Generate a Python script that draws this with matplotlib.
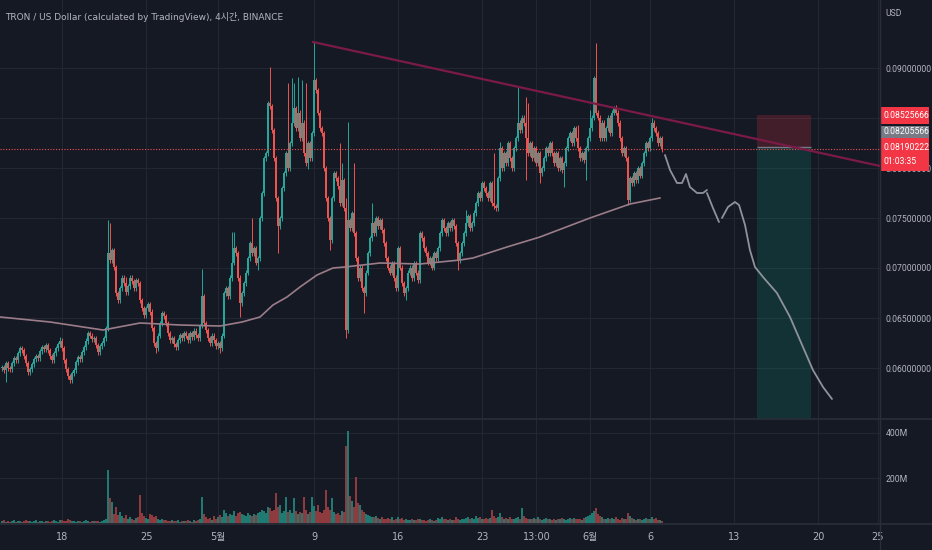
import numpy as np
import matplotlib
matplotlib.use('Agg')
import matplotlib.pyplot as plt
from matplotlib.patches import Rectangle

plt.rcParams['font.family'] = ['DejaVu Sans', 'Noto Sans CJK KR']
NARROW = ['Liberation Sans Narrow', 'Roboto', 'DejaVu Sans']

# 4h candles from 2022-04-13 00:00, closes in 1e-5 USD
closes = [
    6010, 5980, 6050, 6000, 5990, 6050, 6100, 6080, 6150, 6200, 6180,
    6120, 6050, 5960, 5990, 6040, 6090, 6120, 6100, 6170, 6210, 6190,
    6230, 6180, 6120, 6080, 6150, 6200, 6240, 6270, 6200, 6080, 5990, 5920, 5880, 5950,
    5980, 6060, 6110, 6090, 6160, 6210, 6270, 6350, 6320, 6290, 6300, 6230, 6160, 6220, 6250, 6300,
    6400, 7150, 7080, 7180, 7010, 6750, 6680,
    6800, 6900, 6850, 6760, 6820, 6900, 6870, 6800, 6880, 6850,
    6680, 6600, 6530, 6600, 6640, 6560, 6400, 6250, 6200, 6320, 6450, 6550, 6520, 6450, 6350, 6280,
    6300, 6240, 6210, 6280, 6330, 6300, 6350,
    6320, 6280, 6350, 6310, 6370, 6330, 6300, 6420, 6720, 6450,
    6380, 6300, 6250, 6320, 6280, 6220, 6250, 6200, 6320, 6750,
    6800, 6720, 6900, 7050, 7200, 7150, 6900, 6650, 6750, 6850, 6950, 7100, 7250,
    7150, 7200, 7050, 7100, 7500, 7750, 8100, 8150, 8650, 8620, 8380,
    8100, 7700, 7420, 7500, 7800, 7950, 8150, 8000, 8250, 8450, 8600, 8400, 8550,
    8300, 8450, 8150, 8050, 8250, 8100, 8350, 8880, 8780, 8550, 8400, 8350,
    8000, 7700, 7500, 7280, 7700, 7950, 7900, 7820, 7650, 7880, 7600, 6380, 7480,
    7400, 7550, 7350, 7100, 6900, 7000, 6800, 6750,
    6950, 7150, 7300, 7450, 7350, 7500, 7420, 7480, 7380, 7250, 7100, 7000, 6950, 7050,
    6900, 6800, 7200, 7000, 6850, 6750, 6800, 6950, 7000, 6900, 7050, 6950, 6880, 7350,
    7300, 7200, 7150, 7050, 7100, 7000, 7150, 7100,
    7200, 7350, 7480, 7400, 7350, 7450, 7400, 7480, 7420, 7250, 7080,
    7150, 7250, 7350, 7450, 7520, 7400, 7450, 7550, 7650, 7750, 7700, 7850, 7800,
    7750, 7700, 7850, 7650, 7620, 7600, 7900, 8200,
    8000, 8150, 8050, 8250, 8100, 8000, 8200, 8300, 8450, 8380, 8500, 8450,
    8300, 8150, 8250, 8100, 8200, 8050, 8150, 7950, 8000,
    8100, 8200, 8150, 8250, 8150, 8050, 8150, 8000, 8100, 7980, 8050, 8200,
    8300, 8350, 8250, 8400, 8300, 8200, 8100, 8150, 8080, 8200, 8300, 8400, 8500,
    8900, 8550, 8500, 8300, 8450, 8300, 8400, 8500, 8350, 8550, 8600, 8550, 8450,
    8300, 8150, 8200, 8100, 7680, 7900, 7850, 7950, 7880, 8000, 7920,
    8050, 8150, 8250, 8200, 8300, 8450, 8400, 8350, 8250, 8300, 8190,
]
first_open = 6000

# long wicks (candle index -> price in 1e-5 USD)
wick_high = {29: 6310, 53: 7480, 54: 7450, 62: 6910, 100: 6990, 115: 7360,
             116: 7360, 125: 7500, 134: 9010, 143: 8850, 145: 8900, 146: 8850,
             148: 8910, 150: 8880, 152: 8850, 156: 9260, 169: 8250, 170: 8050,
             172: 7700, 173: 8460, 176: 8050, 185: 7650, 232: 7580, 236: 7580,
             246: 8150, 249: 8260, 258: 8810, 262: 8710, 263: 8650, 288: 8430,
             294: 8580, 297: 9250, 307: 8630, 325: 8500}
wick_low = {2: 5860, 34: 5850, 77: 6150, 109: 6150, 119: 6510, 128: 6980,
            138: 7150, 153: 7990, 164: 7180, 172: 6300, 181: 6550, 202: 6680,
            228: 6980, 262: 7880, 269: 7850, 281: 7810, 292: 7880, 313: 7630}

# volume per candle, millions
volumes = [
    8, 12, 6, 10, 7, 9, 14, 6, 8, 11, 7, 9,
    15, 10, 8, 6, 9, 12, 7, 10, 8, 6, 11, 9,
    7, 10, 13, 8, 6, 12, 14, 9, 11, 16, 12, 8,
    10, 7, 9, 11, 6, 8, 12, 9, 7, 10, 8, 11,
    9, 6, 10, 12, 18, 235, 110, 95, 40, 70, 35, 50,
    30, 22, 35, 18, 25, 20, 15, 22, 28, 124, 45, 30,
    22, 18, 40, 35, 28, 30, 20, 15, 18, 12, 14, 10,
    9, 12, 8, 10, 14, 7, 11, 9, 8, 13, 10, 7,
    12, 9, 15, 20, 115, 40, 25, 18, 22, 15, 30, 20,
    28, 35, 25, 60, 45, 30, 40, 35, 55, 30, 45, 50,
    40, 35, 30, 45, 38, 30, 40, 35, 45, 50, 60, 55,
    45, 70, 65, 55, 60, 133, 70, 80, 45, 55, 115, 50,
    60, 45, 110, 55, 40, 50, 45, 115, 60, 40, 50, 115,
    75, 55, 80, 50, 45, 60, 146, 70, 60, 110, 50, 40,
    45, 35, 55, 50, 342, 410, 120, 100, 70, 204, 90, 80,
    60, 50, 40, 35, 30, 28, 25, 30, 22, 20, 25, 18,
    20, 22, 18, 25, 15, 20, 28, 18, 22, 15, 20, 12,
    15, 18, 12, 14, 20, 16, 12, 15, 10, 14, 18, 12,
    10, 15, 22, 18, 25, 16, 20, 14, 18, 12, 15, 25,
    18, 14, 20, 16, 22, 28, 20, 24, 18, 30, 22, 26,
    20, 18, 22, 16, 24, 58, 30, 22, 26, 45, 25, 18,
    22, 16, 25, 20, 18, 22, 28, 20, 65, 30, 24, 18,
    20, 16, 22, 18, 25, 20, 14, 18, 22, 16, 20, 15,
    18, 14, 20, 16, 22, 18, 15, 20, 24, 18, 22, 16,
    20, 18, 15, 22, 25, 30, 35, 45, 55, 68, 40, 30,
    25, 20, 18, 22, 16, 24, 20, 28, 18, 15, 22, 18,
    20, 44, 30, 22, 18, 15, 20, 16, 14, 18, 22, 16,
    20, 25, 18, 22, 15, 12, 8,
]

# moving average (days since May 1, price)
ma_days = [-18.17, -14.0, -9.58, -6.5, -3.17, 0.17, 2.0, 3.5, 4.58, 5.75, 6.83,
           8.25, 9.58, 10.58, 13.5, 16.83, 20.17, 21.25, 24.08, 26.83, 31.0,
           34.33, 36.83]
ma_vals = [0.0651, 0.0646, 0.0638, 0.0645, 0.0643, 0.0642, 0.0646, 0.0651,
           0.0663, 0.0671, 0.0681, 0.0693, 0.0700, 0.0701, 0.0705, 0.0704,
           0.0708, 0.0710, 0.0721, 0.0731, 0.0750, 0.0764, 0.0770]

# descending trendline
trend_days = [7.92, 55.17]
trend_vals = [0.0926, 0.0802]

# hand-drawn projection path
proj_days = [37.25, 37.67, 38.25, 38.67, 39.0, 39.33, 39.92, 40.42, 40.75, np.nan,
             40.75, 41.25, 41.75, np.nan,
             42.0, 42.5, 43.08, 43.42, 43.92, 44.33, 44.75, 45.42, 46.58, 47.67,
             48.75, 49.58, 50.42, 51.17]
proj_vals = [0.0813, 0.0798, 0.0785, 0.0785, 0.0794, 0.0781, 0.0775, 0.0775, 0.0778, np.nan,
             0.0775, 0.0760, 0.0746, np.nan,
             0.0750, 0.0761, 0.0766, 0.0763, 0.0743, 0.0718, 0.0701, 0.0691, 0.0675,
             0.0651, 0.0621, 0.0598, 0.0581, 0.0569]

# short position tool
pos_start, pos_end = 44.92, 49.42
entry_price = 0.08205566
stop_price = 0.08525666
target_price = 0.0500
last_price = 0.08190222

tick_days = [-13, -6, 0, 8, 15, 22, 26.54, 31, 36, 43, 50, 55]
tick_labels = ['18', '25', '5월', '9', '16', '23', '13:00', '6월', '6', '13', '20', '25']
price_ticks = [0.060, 0.065, 0.070, 0.075, 0.080, 0.085, 0.090]

BG = '#151924'
GRID = '#232733'
TXT = '#b2b5be'
UP = '#26a69a'
DOWN = '#ef5350'
W, H = 932, 550
LABEL_SIZE = 6.2

# candle arrays
n = len(closes)
days = -18 + np.arange(n) / 6
c = np.array(closes, dtype=float)
o = np.concatenate([[first_open], c[:-1]])
hi = np.maximum(o, c) + 25
lo = np.minimum(o, c) - 25
for k, v in wick_high.items():
    hi[k] = max(hi[k], v)
for k, v in wick_low.items():
    lo[k] = min(lo[k], v)
c, o, hi, lo = c / 1e5, o / 1e5, hi / 1e5, lo / 1e5
up = c >= o
cols = np.where(up, UP, DOWN)

fig = plt.figure(figsize=(W / 100, H / 100), dpi=100, facecolor=BG)
ax = fig.add_axes([0, (H - 419) / H, 880 / W, 419 / H], facecolor=BG)
axv = fig.add_axes([0, (H - 524) / H, 880 / W, 105 / H], facecolor=BG, sharex=ax)

xmin, xmax = -18.17, 55.17

# price pane
for t in tick_days:
    ax.axvline(t, color=GRID, lw=0.8, zorder=0)
    axv.axvline(t, color=GRID, lw=0.8, zorder=0)
for p in price_ticks:
    ax.axhline(p, color=GRID, lw=0.8, zorder=0)

ax.vlines(days, lo, hi, colors=cols, lw=0.7, zorder=2)
body = np.where(np.abs(c - o) < 0.00003, 0.00003, c - o)
ax.bar(days, body, bottom=o, width=0.14, color=cols, linewidth=0, zorder=3)

ax.plot(ma_days, ma_vals, color='#9a7d89', lw=1.2, zorder=4)
ax.plot(trend_days, trend_vals, color='#7c1a47', lw=1.6, zorder=5)
ax.plot(proj_days, proj_vals, color='#8f929b', lw=1.3, zorder=5, solid_capstyle='round')

ax.add_patch(Rectangle((pos_start, entry_price), pos_end - pos_start, stop_price - entry_price,
                       facecolor='#f23645', alpha=0.2, linewidth=0, zorder=1))
ax.add_patch(Rectangle((pos_start, target_price), pos_end - pos_start, entry_price - target_price,
                       facecolor='#089981', alpha=0.2, linewidth=0, zorder=1))
ax.hlines(entry_price, pos_start, pos_end, color='#787b86', lw=1.0, zorder=2)

ax.axhline(last_price, color=DOWN, lw=0.8, ls=(0, (1, 1.5)), zorder=4)

ax.set_xlim(xmin, xmax)
ax.set_ylim(0.0549, 0.0968)
ax.yaxis.tick_right()
ax.set_yticks(price_ticks)
# the 0.085 label sits fully under the stop-price tag, so it is left blank
ax.set_yticklabels(['' if p == 0.085 else '%.8f' % p for p in price_ticks], family=NARROW)
ax.tick_params(axis='y', length=0, pad=4, labelsize=LABEL_SIZE, labelcolor=TXT)
ax.tick_params(axis='x', length=0, labelbottom=False)
for s in ax.spines.values():
    s.set_visible(False)

# volume pane
vcols = np.where(up, '#1f7a72', '#8e3b3f')
axv.bar(days, volumes, width=0.13, color=vcols, linewidth=0, zorder=2)
axv.axhline(200, color=GRID, lw=0.8, zorder=0)
axv.axhline(400, color=GRID, lw=0.8, zorder=0)
axv.set_ylim(-4, 462)
axv.set_xlim(xmin, xmax)
axv.yaxis.tick_right()
axv.set_yticks([200, 400])
axv.set_yticklabels(['200M', '400M'], family=NARROW)
axv.tick_params(axis='y', length=0, pad=4, labelsize=LABEL_SIZE, labelcolor=TXT)
axv.set_xticks(tick_days)
axv.set_xticklabels(tick_labels)
axv.tick_params(axis='x', length=0, pad=6, labelsize=7, labelcolor=TXT)
for s in axv.spines.values():
    s.set_visible(False)


def px(x, y):
    return x / W, 1 - y / H


# pane separators
fig.add_artist(plt.Line2D([0, 1], [1 - 419 / H] * 2, color='#2a2e39', lw=1.2))
fig.add_artist(plt.Line2D([0, 1], [1 - 524 / H] * 2, color='#2a2e39', lw=1.2))
fig.add_artist(plt.Line2D([880 / W] * 2, [0, 1], color='#2a2e39', lw=1.0))


def price_box(y0, y1, color, text):
    x0, yb = px(880, y1)
    fig.add_artist(Rectangle((x0, yb), 49 / W, (y1 - y0) / H, transform=fig.transFigure,
                             facecolor=color, edgecolor='none'))
    fig.text(px(884, 0)[0], 1 - (y0 + y1) / 2 / H, text, color='white', fontsize=LABEL_SIZE,
             family=NARROW, va='center', ha='left', linespacing=1.7)


price_box(107, 124, '#f23645', '0.08525666')
price_box(126, 138, '#787b86', '0.08205566')
price_box(138, 171, '#f23645', '0.08190222\n01:03:35')

fig.text(*px(885, 13), 'USD', color=TXT, fontsize=LABEL_SIZE, family=NARROW,
         va='center', ha='left')
fig.text(*px(5, 17), 'TRON / US Dollar (calculated by TradingView), 4시간, BINANCE',
         color=TXT, fontsize=6.5, va='center', ha='left')

fig.savefig('out.png', dpi=100, facecolor=BG)
